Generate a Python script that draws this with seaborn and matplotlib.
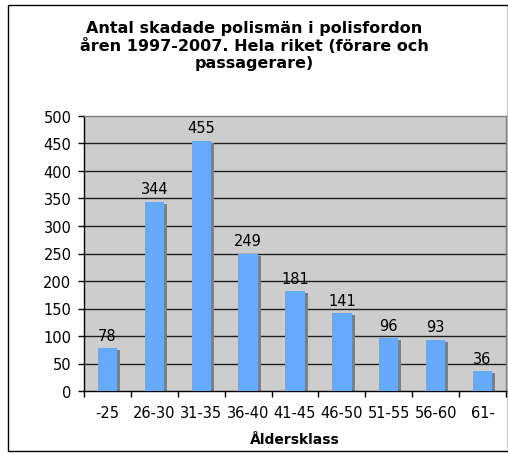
import matplotlib
matplotlib.use("Agg")
import matplotlib.pyplot as plt
import matplotlib.transforms as mtransforms
from matplotlib.patches import Rectangle
import seaborn as sns
import pandas as pd

categories = ["-25", "26-30", "31-35", "36-40", "41-45", "46-50", "51-55", "56-60", "61-"]
values = [78, 344, 455, 249, 181, 141, 96, 93, 36]
title = "Antal skadade polismän i polisfordon\nåren 1997-2007. Hela riket (förare och\npassagerare)"
xlabel = "Åldersklass"
yticks = list(range(0, 501, 50))

sns.set_style("white")
plt.rcParams["font.family"] = ["DejaVu Sans"]
plt.rcParams["text.color"] = "black"
plt.rcParams["xtick.color"] = "black"
plt.rcParams["ytick.color"] = "black"
plt.rcParams["axes.labelcolor"] = "black"

df = pd.DataFrame({"cat": categories, "val": values})

W, H = 508, 456
fig = plt.figure(figsize=(W / 100, H / 100), dpi=100)
fig.patch.set_facecolor("white")
# outer frame
fig.add_artist(Rectangle((8 / W, 4 / H), (W - 8.5) / W, (H - 10) / H, transform=fig.transFigure,
                         fill=False, edgecolor="black", linewidth=1.0))

left, right, top, bottom = 84, 506, 117, 392
ax = fig.add_axes([left / W, 1 - bottom / H, (right - left) / W, (bottom - top) / H])
ax.set_facecolor("#CDCDCD")

sns.barplot(data=df, x="cat", y="val", color="#66AAFF", saturation=1, width=0.41,
            ax=ax, zorder=3, edgecolor="none")

shadow_off = mtransforms.ScaledTranslation(3 / 100, -2 / 100, fig.dpi_scale_trans)
for p in list(ax.patches):
    x, y = p.get_xy()
    ax.add_patch(Rectangle((x, y), p.get_width(), p.get_height(), facecolor="#808080",
                           edgecolor="none", zorder=2, transform=ax.transData + shadow_off,
                           clip_on=True))
    ax.annotate(f"{int(p.get_height())}", (x + p.get_width() / 2, p.get_height()),
                xytext=(0, 4), textcoords="offset points", ha="center", va="bottom",
                fontsize=10.5, color="black", zorder=5)

ax.set_ylim(0, 500)
ax.set_xlim(-0.5, len(categories) - 0.5)
ax.set_yticks(yticks)
ax.set_yticklabels([str(v) for v in yticks], fontsize=10.5)
for y in yticks[1:-1]:
    ax.axhline(y, color="#202020", linewidth=1.0, zorder=1)

ax.set_xticks([i - 0.5 for i in range(len(categories) + 1)], minor=False)
ax.set_xticklabels([""] * (len(categories) + 1))
ax.set_xticks(range(len(categories)), minor=True)
ax.set_xticklabels(categories, minor=True, fontsize=10.5)
ax.tick_params(axis="x", which="minor", bottom=False, length=0, pad=10)
ax.tick_params(axis="x", which="major", bottom=True, length=4, width=1, color="black",
               direction="out")
ax.tick_params(axis="y", left=True, length=4, width=1, color="black", direction="out", pad=5)

for s in ["top", "right"]:
    ax.spines[s].set_color("#808080")
    ax.spines[s].set_linewidth(1.0)
for s in ["left", "bottom"]:
    ax.spines[s].set_color("black")
    ax.spines[s].set_linewidth(1.0)

ax.set_xlabel(xlabel, fontsize=10, fontweight="bold", labelpad=9)
ax.set_ylabel("")

fig.text(254 / W, 1 - 46 / H, title, ha="center", va="center", fontsize=11.5,
         fontweight="bold", linespacing=1.15)

fig.savefig("out.png", dpi=100)
